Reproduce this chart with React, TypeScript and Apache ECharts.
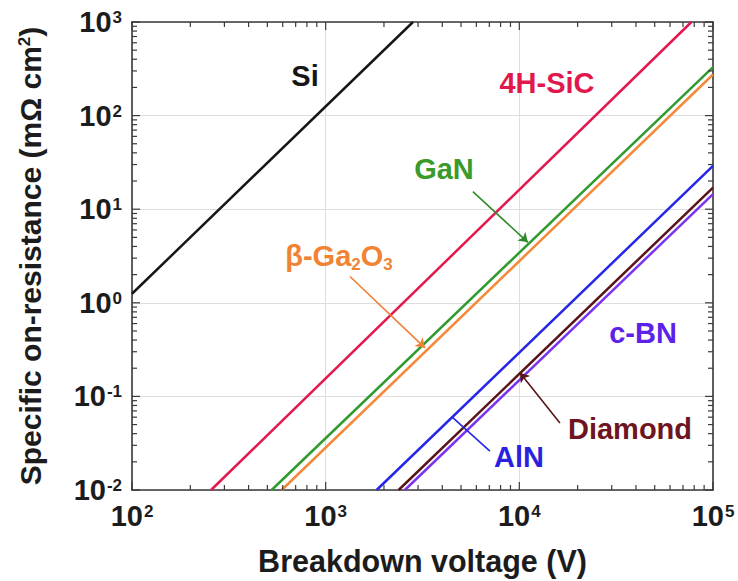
import React, { useEffect, useRef } from "react";
import * as echarts from "echarts";

// Axis extents: breakdown voltage (V) and specific on-resistance (mΩ·cm²)
const xRange = [1e2, 1e5];
const yRange = [1e-2, 1e3];

// Decade ticks and the 2..9 sub-divisions drawn along the frame
const xDecades = [1e2, 1e3, 1e4, 1e5];
const yDecades = [1e-2, 1e-1, 1e0, 1e1, 1e2, 1e3];
const minorSteps = [2, 3, 4, 5, 6, 7, 8, 9];

// Unipolar limit lines: [breakdown voltage, on-resistance] at the two ends
const materials = ["Si", "4H-SiC", "GaN", "β-Ga2O3", "AlN", "Diamond", "c-BN"];
const lineColors = ["#161616", "#e3184c", "#2f9b2f", "#f5893a", "#2626e8", "#5a1418", "#7b33f2"];
const siLimit = [[100, 1.25], [2825, 1000]];
const sicLimit = [[256, 0.01], [77400, 1000]];
const ganLimit = [[526, 0.01], [100000, 330]];
const ga2o3Limit = [[593, 0.01], [100000, 275]];
const alnLimit = [[1833, 0.01], [100000, 29]];
const diamondLimit = [[2380, 0.01], [100000, 17]];
const cbnLimit = [[2564, 0.01], [100000, 14.5]];
const limits = [siLimit, sicLimit, ganLimit, ga2o3Limit, alnLimit, diamondLimit, cbnLimit];

// Leader lines from the text labels to their curves (data coordinates)
const ganLeader = [[5757, 15.4], [11070, 4.43]];
const ga2o3Leader = [[1335, 1.91], [3256, 0.33]];
const diamondLeader = [[16200, 0.052], [10070, 0.179]];
const alnLeader = [[7047, 0.026], [4487, 0.0605]];

const FONT = "'Liberation Sans', Arial, Helvetica, sans-serif";
const INK = "#1c1c1c";
const FRAME = "#3a3a3a";

const tickRich = {
  b: { fontFamily: FONT, fontWeight: "bold", fontSize: 29, color: INK, lineHeight: 32 },
  s: { fontFamily: FONT, fontWeight: "bold", fontSize: 17, color: INK, lineHeight: 20, verticalAlign: "top", padding: [3, 0, 0, 1] },
};

const powerLabel = (val: number) => {
  const e = Math.round(Math.log10(val));
  return `{b|10}{s|${e}}`;
};

// frame tick marks: [x, y, kind(0 = x tick, 1 = y tick), major]
const frameTicks: number[][] = [];
xDecades.forEach((d, i) => {
  frameTicks.push([d, 1, 0, 1]);
  if (i < xDecades.length - 1) minorSteps.forEach((m) => frameTicks.push([d * m, 1, 0, 0]));
});
yDecades.forEach((d, i) => {
  frameTicks.push([1000, d, 1, 1]);
  if (i < yDecades.length - 1) minorSteps.forEach((m) => frameTicks.push([1000, d * m, 1, 0]));
});

const textLabel = (text: string, x: number, y: number, color: string, rich?: any) => ({
  type: "text",
  x,
  y,
  z: 10,
  style: {
    text,
    fill: color,
    fontFamily: FONT,
    fontWeight: "bold",
    fontSize: 29,
    align: "center",
    verticalAlign: "middle",
    textAlign: "center",
    textVerticalAlign: "middle",
    rich,
  },
});

const leader = (pts: number[][], color: string, endSymbol: string) => ({
  silent: true,
  symbol: ["none", endSymbol],
  symbolSize: 9,
  label: { show: false },
  lineStyle: { color, width: 1.6, type: "solid" },
  data: [[{ coord: pts[0] }, { coord: pts[1] }]],
});

export default function App() {
  const ref = useRef<HTMLDivElement>(null);

  useEffect(() => {
    if (!ref.current) return;
    const chart = echarts.init(ref.current, undefined, { renderer: "svg" });

    const leaders: Record<string, any> = {
      GaN: leader(ganLeader, "#2f8a2a", "arrow"),
      "β-Ga2O3": leader(ga2o3Leader, "#ef7f35", "arrow"),
      Diamond: leader(diamondLeader, "#5a1418", "arrow"),
      AlN: leader(alnLeader, "#2626e8", "none"),
    };

    const lineSeries = materials.map((name, i) => ({
      name,
      type: "line",
      data: limits[i],
      showSymbol: false,
      symbol: "none",
      clip: true,
      z: 3,
      lineStyle: { color: lineColors[i], width: 2.5 },
      markLine: leaders[name],
    }));

    const tickSeries = {
      type: "custom",
      silent: true,
      clip: false,
      z: 6,
      encode: { x: 0, y: 1 },
      data: frameTicks,
      renderItem: (_params: any, api: any) => {
        const kind = api.value(2);
        const len = api.value(3) ? 8 : 5;
        const style = { stroke: FRAME, lineWidth: 1.2 };
        if (kind === 0) {
          const v = api.value(0);
          const b = api.coord([v, yRange[0]]);
          const t = api.coord([v, yRange[1]]);
          return {
            type: "group",
            children: [
              { type: "line", shape: { x1: b[0], y1: b[1], x2: b[0], y2: b[1] - len }, style },
              { type: "line", shape: { x1: t[0], y1: t[1], x2: t[0], y2: t[1] + len }, style },
            ],
          };
        }
        const v = api.value(1);
        const l = api.coord([xRange[0], v]);
        const r = api.coord([xRange[1], v]);
        return {
          type: "group",
          children: [
            { type: "line", shape: { x1: l[0], y1: l[1], x2: l[0] + len, y2: l[1] }, style },
            { type: "line", shape: { x1: r[0], y1: r[1], x2: r[0] - len, y2: r[1] }, style },
          ],
        };
      },
    };

    const frameAxis = {
      type: "log",
      logBase: 10,
      axisLine: { show: true, onZero: false, lineStyle: { color: FRAME, width: 1.6 } },
      axisTick: { show: false },
      minorTick: { show: false },
      axisLabel: { show: false },
      splitLine: { show: false },
    };

    chart.setOption({
      animation: false,
      backgroundColor: "#ffffff",
      grid: { left: 132, top: 22, width: 581, height: 469, containLabel: false },
      xAxis: [
        {
          ...frameAxis,
          min: xRange[0],
          max: xRange[1],
          position: "bottom",
          splitLine: { show: true, lineStyle: { color: "#dedede", width: 1 } },
          axisLabel: { show: true, margin: 10, formatter: powerLabel, rich: tickRich },
          name: "Breakdown voltage (V)",
          nameLocation: "middle",
          nameGap: 55,
          nameTextStyle: { fontFamily: FONT, fontWeight: "bold", fontSize: 30.5, color: INK },
        },
        { ...frameAxis, min: xRange[0], max: xRange[1], position: "top" },
      ],
      yAxis: [
        {
          ...frameAxis,
          min: yRange[0],
          max: yRange[1],
          position: "left",
          splitLine: { show: true, lineStyle: { color: "#dedede", width: 1 } },
          axisLabel: { show: true, margin: 10, formatter: powerLabel, rich: tickRich },
          name: "{t|Specific on-resistance (mΩ cm}{p|2}{t|)}",
          nameLocation: "middle",
          nameGap: 85,
          nameTextStyle: {
            rich: {
              t: { fontFamily: FONT, fontWeight: "bold", fontSize: 30, color: INK, lineHeight: 33 },
              p: { fontFamily: FONT, fontWeight: "bold", fontSize: 17, color: INK, lineHeight: 20, verticalAlign: "top", padding: [2, 0, 0, 0] },
            },
          },
        },
        { ...frameAxis, min: yRange[0], max: yRange[1], position: "right" },
      ],
      series: [...lineSeries, tickSeries],
      graphic: [
        textLabel("Si", 305, 76, "#161616"),
        textLabel("4H-SiC", 547, 83, "#e2174d"),
        textLabel("GaN", 444, 169, "#3a9a2a"),
        textLabel("{t|β-Ga}{u|2}{t|O}{u|3}", 339, 256, "#f08434", {
          t: { fontFamily: FONT, fontWeight: "bold", fontSize: 29, fill: "#f08434", color: "#f08434", lineHeight: 34 },
          u: { fontFamily: FONT, fontWeight: "bold", fontSize: 17, fill: "#f08434", color: "#f08434", lineHeight: 20, verticalAlign: "bottom" },
        }),
        textLabel("c-BN", 643, 333, "#5d22e8"),
        textLabel("Diamond", 630, 429, "#6e1520"),
        textLabel("AlN", 519, 457, "#2b1fe0"),
      ],
    });

    return () => chart.dispose();
  }, []);

  return (
    <div
      ref={ref}
      style={{ position: "fixed", left: 0, top: 0, width: 738, height: 581, background: "#fff" }}
    />
  );
}
